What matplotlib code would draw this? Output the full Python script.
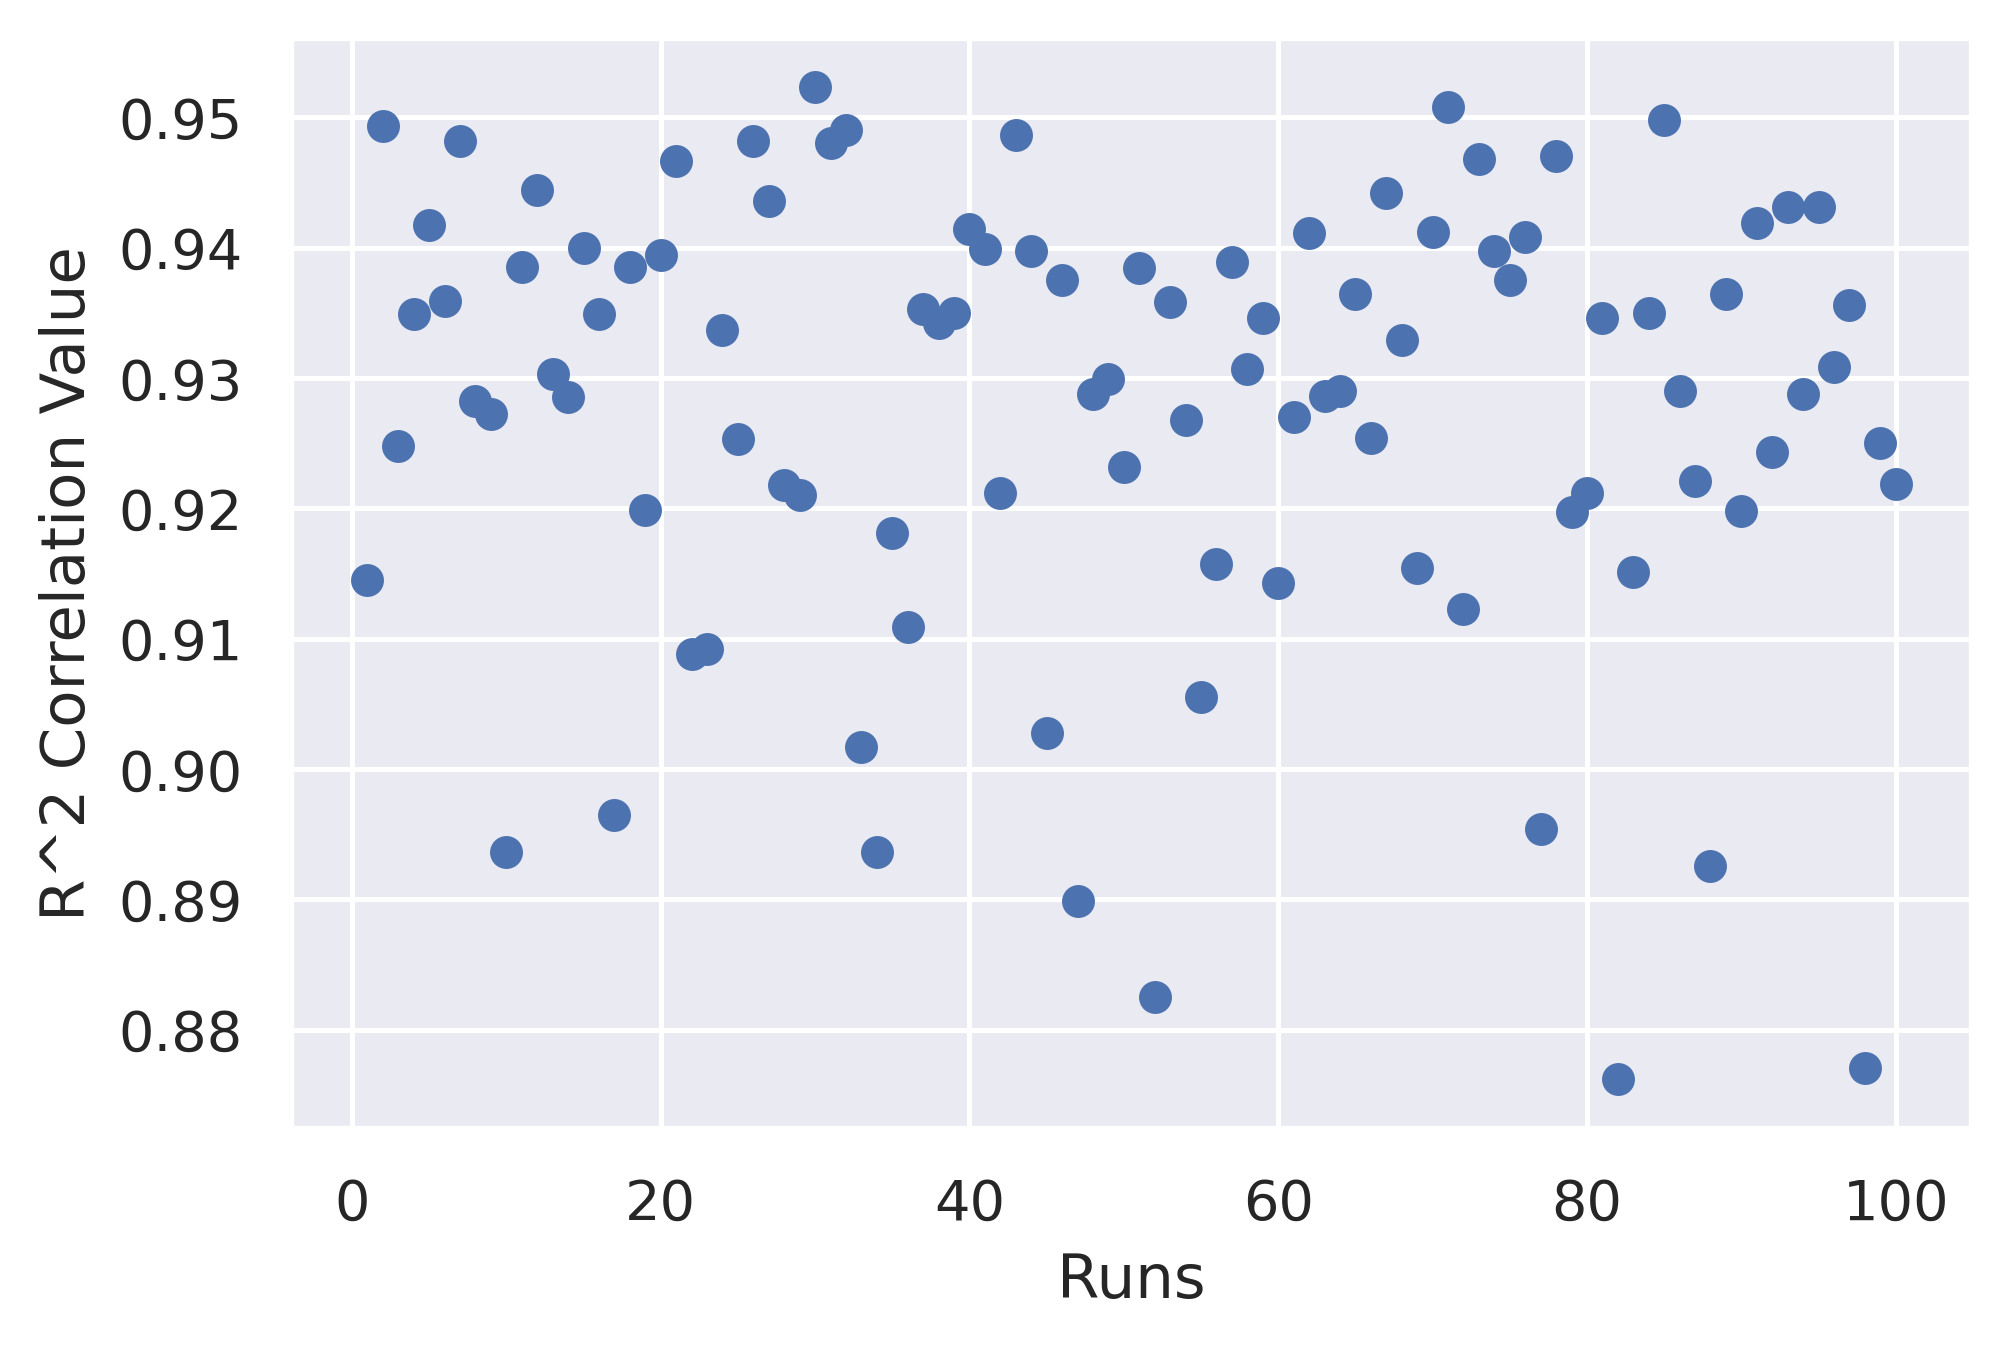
import numpy as np
import matplotlib
matplotlib.use("Agg")
import matplotlib.pyplot as plt
import seaborn as sns

runs = np.arange(1, 101)
r2_values = [
    0.9145, 0.9493, 0.9248, 0.9349, 0.9417, 0.9359, 0.9482, 0.9282, 0.9272, 0.8936,
    0.9385, 0.9444, 0.9303, 0.9285, 0.9400, 0.9349, 0.8965, 0.9385, 0.9199, 0.9394,
    0.9466, 0.9088, 0.9092, 0.9337, 0.9253, 0.9482, 0.9436, 0.9218, 0.9210, 0.9523,
    0.9480, 0.9490, 0.9017, 0.8936, 0.9181, 0.9109, 0.9353, 0.9342, 0.9350, 0.9414,
    0.9399, 0.9212, 0.9486, 0.9397, 0.9028, 0.9375, 0.8899, 0.9288, 0.9299, 0.9232,
    0.9384, 0.8825, 0.9358, 0.9268, 0.9055, 0.9157, 0.9389, 0.9307, 0.9346, 0.9143,
    0.9270, 0.9411, 0.9286, 0.9290, 0.9364, 0.9254, 0.9442, 0.9329, 0.9154, 0.9412,
    0.9508, 0.9123, 0.9468, 0.9397, 0.9375, 0.9408, 0.8954, 0.9470, 0.9197, 0.9212,
    0.9346, 0.8762, 0.9151, 0.9350, 0.9498, 0.9290, 0.9221, 0.8926, 0.9364, 0.9198,
    0.9419, 0.9243, 0.9431, 0.9288, 0.9431, 0.9308, 0.9356, 0.8771, 0.9250, 0.9219,
]

sns.set_theme(style="darkgrid")

dpi = 366
fig, ax = plt.subplots(figsize=(2012.4 / dpi, 1350.4 / dpi), dpi=dpi)
fig.subplots_adjust(left=0.1446, right=0.980, top=0.9719, bottom=0.1637)
ax.scatter(runs, r2_values, color="#4C72B0", s=30)
ax.set_xlabel("Runs")
ax.set_ylabel("R^2 Correlation Value")
fig.savefig("out.png", dpi=dpi)
